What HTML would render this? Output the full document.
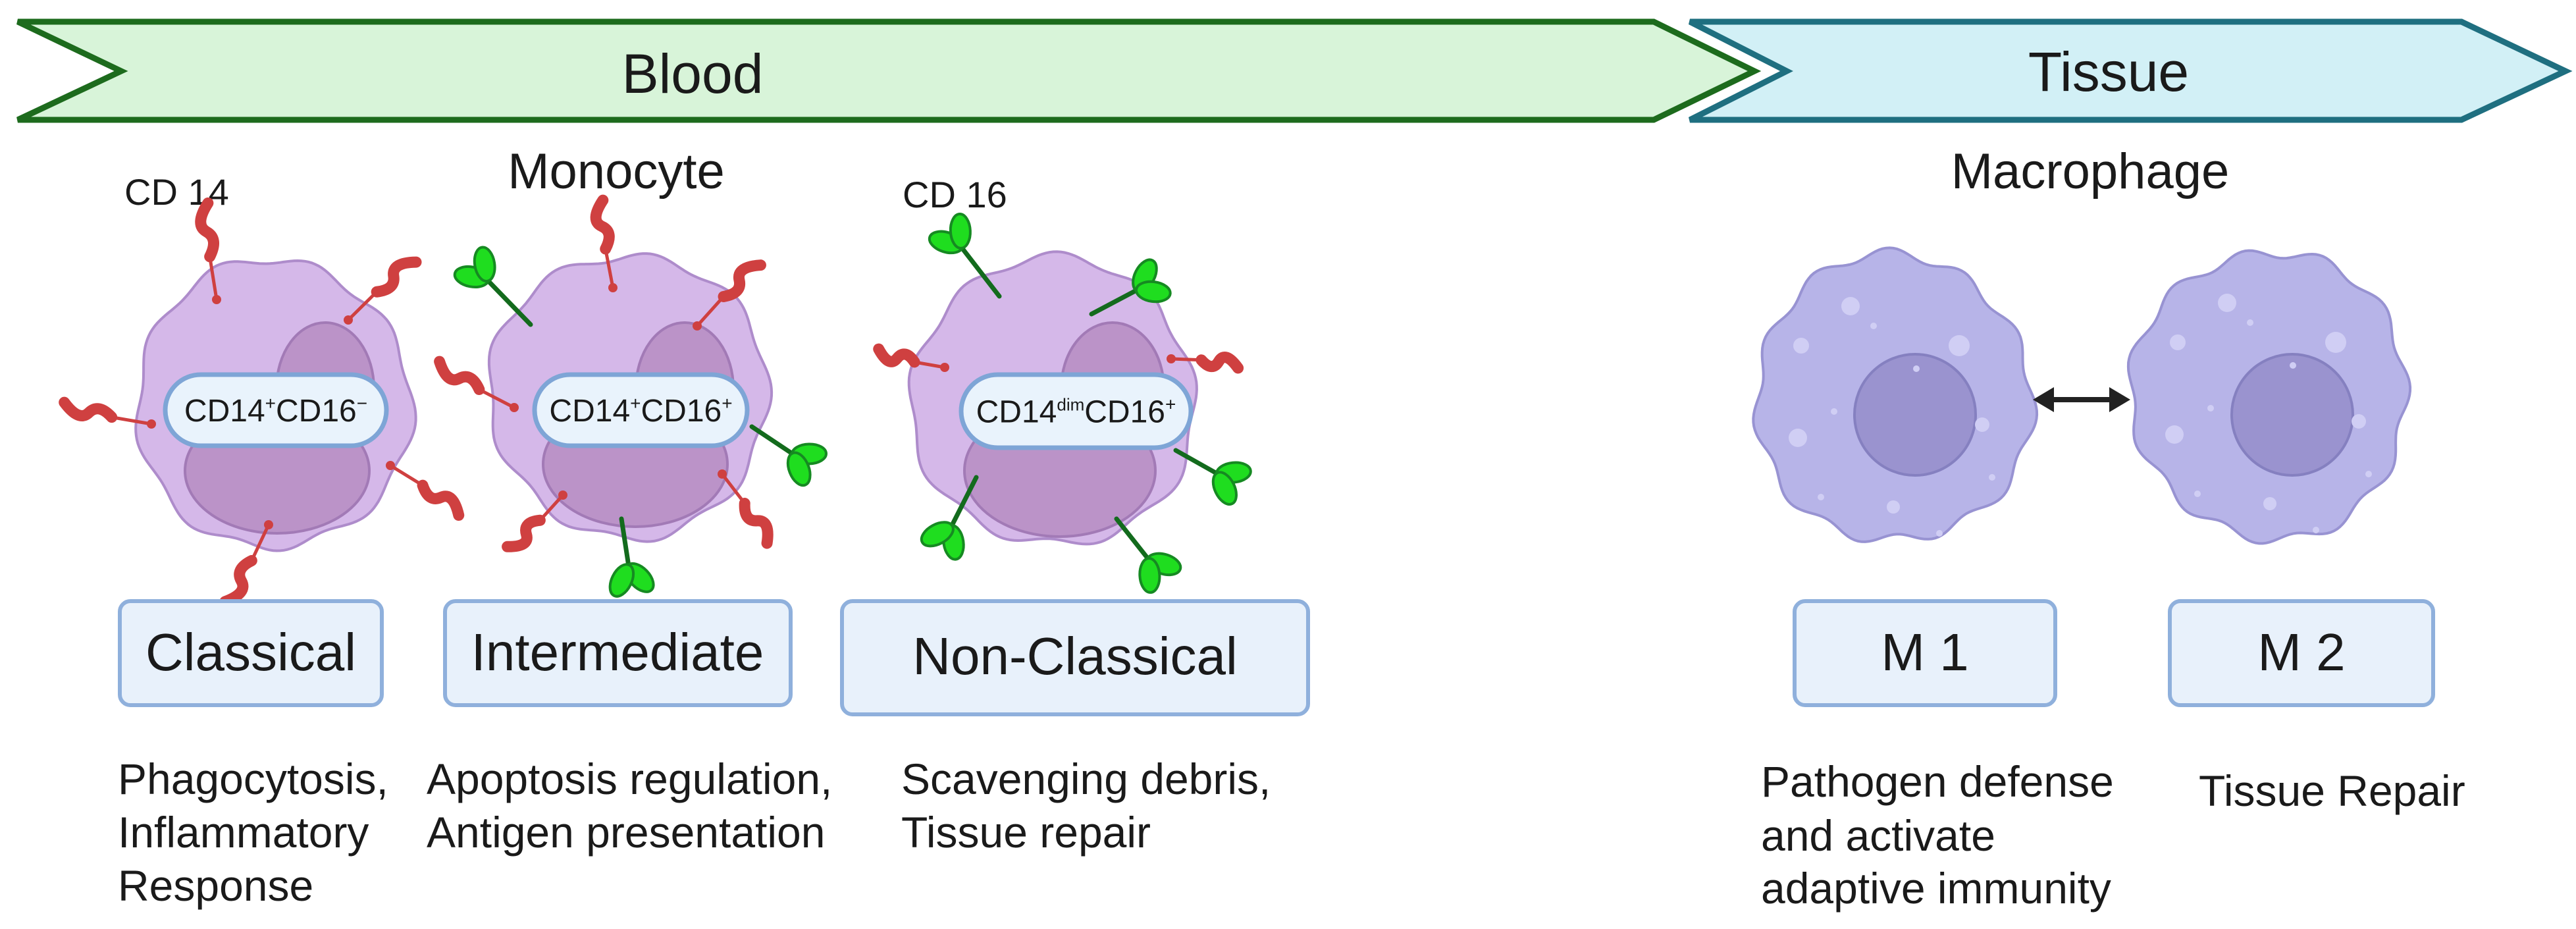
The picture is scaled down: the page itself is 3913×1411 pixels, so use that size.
<!DOCTYPE html>
<html><head><meta charset="utf-8"><style>
html,body{margin:0;padding:0;background:#fff;}
svg{display:block;}
text{font-family:"Liberation Sans",sans-serif;fill:#1a1a1a;}
</style></head><body>
<svg id="s" width="3913" height="1411" viewBox="0 0 3913 1411" xmlns="http://www.w3.org/2000/svg">
<!-- banners -->
<polygon points="27,33 2512,33 2665,108 2512,182 27,182 184,108" fill="#d8f4d9" stroke="#1d6b1d" stroke-width="9" stroke-linejoin="miter"/>
<polygon points="2567,33 3739,33 3897,108 3739,182 2567,182 2714,108" fill="#d2f0f6" stroke="#1f6f80" stroke-width="9"/>
<text x="1052" y="141" font-size="84" text-anchor="middle">Blood</text>
<text x="3203" y="138" font-size="84" text-anchor="middle">Tissue</text>
<text x="936" y="286" font-size="76" text-anchor="middle">Monocyte</text>
<text x="3175" y="286" font-size="76" text-anchor="middle">Macrophage</text>
<text x="189" y="311" font-size="56">CD 14</text>
<text x="1371" y="315" font-size="56">CD 16</text>
<g id="cells"></g>
<!-- boxes -->
<g fill="#e8f1fb" stroke="#8fb0dc" stroke-width="6">
<rect x="182" y="913" width="398" height="158" rx="16"/>
<rect x="676" y="913" width="525" height="158" rx="16"/>
<rect x="1279" y="913" width="708" height="172" rx="16"/>
<rect x="2726" y="913" width="396" height="158" rx="16"/>
<rect x="3296" y="913" width="400" height="158" rx="16"/>
</g>
<g font-size="80" text-anchor="middle">
<text x="381" y="1018">Classical</text>
<text x="938" y="1018">Intermediate</text>
<text x="1633" y="1024">Non-Classical</text>
<text x="2924" y="1018">M 1</text>
<text x="3496" y="1018">M 2</text>
</g>
<g font-size="66">
<text x="179" y="1206">Phagocytosis,</text>
<text x="179" y="1287">Inflammatory</text>
<text x="179" y="1368">Response</text>
<text x="648" y="1206">Apoptosis regulation,</text>
<text x="648" y="1287">Antigen presentation</text>
<text x="1369" y="1206">Scavenging debris,</text>
<text x="1369" y="1287">Tissue repair</text>
<text x="2675" y="1210">Pathogen defense</text>
<text x="2675" y="1292">and activate</text>
<text x="2675" y="1372">adaptive immunity</text>
<text x="3340" y="1224">Tissue Repair</text>
</g>
</svg>
<script>
const NS="http://www.w3.org/2000/svg";
const g=document.getElementById('cells');
function el(t,a){const e=document.createElementNS(NS,t);for(const k in a)e.setAttribute(k,a[k]);g.appendChild(e);return e;}
function blob(cx,cy,rx,ry,n,amp,ph,fill,stroke){
 let d="";const N=240;
 for(let i=0;i<=N;i++){const t=i/N*Math.PI*2;
  const r=1+amp*Math.sin(n*t+ph)+amp*0.5*Math.sin(3*t+ph*2)+amp*0.6*Math.sin(2*t+1.3);
  const x=cx+rx*r*Math.cos(t), y=cy+ry*r*Math.sin(t);
  d+=(i?"L":"M")+x.toFixed(1)+","+y.toFixed(1);}
 el('path',{d:d+"Z",fill:fill,stroke:stroke,'stroke-width':4});
}
function pill(x1,y1,x2,y2,html){
 const h=y2-y1;
 el('rect',{x:x1,y:y1,width:x2-x1,height:h,rx:h/2,fill:"#e9f3fc",stroke:"#7ea5d6",'stroke-width':7});
 const t=el('text',{x:(x1+x2)/2,y:(y1+y2)/2+17,'font-size':48,'text-anchor':'middle'});
 t.innerHTML=html;
}
function red(dx,dy,ex,ey){
 const vx=ex-dx,vy=ey-dy,L=Math.hypot(vx,vy),ux=vx/L,uy=vy/L,px=-uy,py=ux;
 const mx=dx+vx*0.45,my=dy+vy*0.45;
 el('line',{x1:dx,y1:dy,x2:mx,y2:my,stroke:"#cf4040",'stroke-width':5});
 el('circle',{cx:dx,cy:dy,r:7,fill:"#cf4040"});
 const a=[mx,my],b=[dx+vx*0.62+px*18,dy+vy*0.62+py*18],c=[dx+vx*0.8-px*16,dy+vy*0.8-py*16],e=[ex+px*10,ey+py*10];
 el('path',{d:`M${a}Q${b[0]},${b[1]} ${(b[0]+c[0])/2},${(b[1]+c[1])/2}T${e}`,fill:"none",stroke:"#cf4040",'stroke-width':17,'stroke-linecap':'round'});
}
function green(sx,sy,ex,ey){
 el('line',{x1:sx,y1:sy,x2:ex,y2:ey,stroke:"#136b1d",'stroke-width':7,'stroke-linecap':'round'});
 const ang=Math.atan2(ey-sy,ex-sx)*180/Math.PI;
 [[-35,0],[35,0]].forEach(([o])=>{
  const a=(ang+o)*Math.PI/180;
  const cx=ex+Math.cos(a)*24,cy=ey+Math.sin(a)*24;
  el('ellipse',{cx:cx,cy:cy,rx:26,ry:15,transform:`rotate(${ang+o} ${cx} ${cy})`,fill:"#1fdd1f",stroke:"#168a22",'stroke-width':4});
 });
}
const CF="#d5b8e9",CS="#ae8ccb",NF="#bb93c8",NS2="#a27ab6";
// cell 1
blob(415,614,205,222,9,0.03,0.5,CF,CS);
el('ellipse',{cx:494,cy:590,rx:74,ry:100,fill:NF,stroke:NS2,'stroke-width':4});
el('ellipse',{cx:421,cy:715,rx:140,ry:95,fill:NF,stroke:NS2,'stroke-width':4});
// cell 2
blob(955,601,208,218,9,0.03,1.7,CF,CS);
el('ellipse',{cx:1040,cy:590,rx:74,ry:100,fill:NF,stroke:NS2,'stroke-width':4});
el('ellipse',{cx:965,cy:705,rx:140,ry:95,fill:NF,stroke:NS2,'stroke-width':4});
// cell 3
blob(1600,610,212,222,9,0.03,2.9,CF,CS);
el('ellipse',{cx:1690,cy:590,rx:78,ry:100,fill:NF,stroke:NS2,'stroke-width':4});
el('ellipse',{cx:1610,cy:715,rx:145,ry:100,fill:NF,stroke:NS2,'stroke-width':4});
// receptors cell1
red(329,455,306,310);red(529,486,625,391);red(230,644,96,621);red(593,707,702,774);red(408,797,351,918);
// cell2
red(931,437,906,306);red(1059,495,1148,396);red(781,619,663,558);red(855,752,778,837);red(1097,720,1173,819);
green(806,493,740,425);green(1142,648,1205,690);green(944,788,955,860);
// cell3
red(1435,558,1333,540);red(1779,545,1881,549);
green(1518,450,1460,375);green(1658,477,1728,440);green(1786,684,1850,720);green(1483,725,1445,800);green(1696,788,1745,850);
pill(251,569,587,677,'CD14<tspan font-size="28" dy="-18">+</tspan><tspan dy="18">CD16</tspan><tspan font-size="28" dy="-18">−</tspan>');
pill(812,569,1135,677,'CD14<tspan font-size="28" dy="-18">+</tspan><tspan dy="18">CD16</tspan><tspan font-size="28" dy="-18">+</tspan>');
pill(1460,569,1809,680,'CD14<tspan font-size="26" dy="-18">dim</tspan><tspan dy="18">CD16</tspan><tspan font-size="28" dy="-18">+</tspan>');
// macrophages
const MF="#b7b4e8",MS="#9893d2";
function macro(cx,cy,nx,ny,ph){
 blob(cx,cy,205,222,11,0.035,ph,MF,MS);
 el('circle',{cx:nx,cy:ny,r:92,fill:"#9a93cf",stroke:"#8580c0",'stroke-width':4});
 const spots=[[-95,-140,14],[-170,-80,12],[70,-80,16],[-175,60,14],[105,40,11],[-30,165,10],[5,-45,5],[-120,20,5],[120,120,5],[-60,-110,5],[-140,150,5],[40,205,5]];
 spots.forEach(([x,y,r])=>el('circle',{cx:cx+x+30,cy:cy+y,r:r,fill:"#d0cef4"}));
}
macro(2876,605,2909,630,0.3);
macro(3448,600,3482,630,2.1);
el('line',{x1:3110,y1:607,x2:3214,y2:607,stroke:"#222",'stroke-width':8});
el('polygon',{points:"3088,607 3120,588 3120,626",fill:"#222"});
el('polygon',{points:"3236,607 3204,588 3204,626",fill:"#222"});
</script>
</body></html>
